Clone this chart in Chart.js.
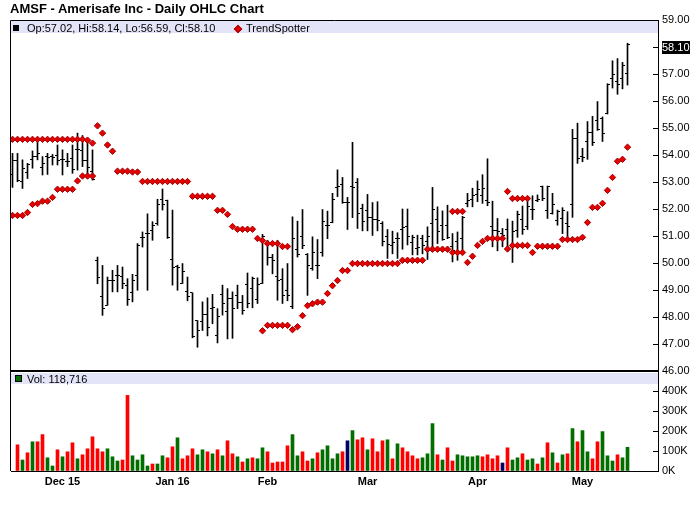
<!DOCTYPE html>
<html>
<head>
<meta charset="utf-8">
<script src="https://cdn.jsdelivr.net/npm/chart.js@4.4.1/dist/chart.umd.min.js"></script>
<style>
  body { margin: 0; background: #fff; }
  #wrap { position: relative; width: 700px; height: 512px; font-family: "Liberation Sans", Arial, sans-serif; color: #000; }
  #chart { position: absolute; left: 0; top: 0; }
  #title { position: absolute; left: 10px; top: 1px; font-size: 13px; line-height: 15px; font-weight: bold; white-space: nowrap; }
  .band { position: absolute; left: 11px; width: 647px; background: #e4e4f8; }
  .txt { position: absolute; font-size: 11px; line-height: 12px; white-space: nowrap; }
  .sq { position: absolute; }
</style>
</head>
<body>
<div id="wrap">
  <canvas id="chart" width="700" height="512"></canvas>
  <div id="title">AMSF - Amerisafe Inc - Daily OHLC Chart</div>
  <div class="band" style="top:21px;height:12px;"></div>
  <div class="sq" style="left:13px;top:25px;width:6px;height:6px;background:#000;"></div>
  <div class="txt" id="ohlcLegend" style="left:27px;top:22px;"></div>
  <div class="sq" style="left:235px;top:26px;width:4px;height:4px;background:#e00000;border:1px solid #a00000;transform:rotate(45deg);"></div>
  <div class="txt" style="left:246px;top:22px;">TrendSpotter</div>
  <div class="band" style="top:373px;height:11px;"></div>
  <div class="sq" style="left:15px;top:375px;width:5px;height:5px;background:#006f00;border:1px solid #000;"></div>
  <div class="txt" id="volLegend" style="left:27px;top:373px;"></div>
</div>
<script>
// AMSF daily bars, 16 Nov 2015 .. 13 May 2016 (bar index 0..123)
const monthIdx = [10, 32, 51, 71, 93, 114];
const monthLabels = ['Dec 15', 'Jan 16', 'Feb', 'Mar', 'Apr', 'May'];
const priceTicks = [46, 47, 48, 49, 50, 51, 52, 53, 54, 55, 56, 57, 58, 59];
const volTicks = [0, 100000, 200000, 300000, 400000];

const opens = [
  53.26, 53.78, 53.03, 53.35, 53.85, 53.94, 53.54, 53.94, 53.94, 53.98,
  53.85, 53.75, 53.88, 54.20, 54.16, 53.80, 53.40, 50.10, 48.77, 48.43,
  49.36, 49.54, 49.50, 49.17, 48.90, 49.52, 50.96, 51.09, 51.20, 51.46,
  52.36, 52.33, 50.13, 49.86, 49.24, 48.93, 48.90, 47.87, 47.85, 48.10,
  48.31, 47.30, 48.84, 48.21, 48.70, 48.80, 48.55, 49.20, 49.05, 48.65,
  49.24, 50.70, 50.20, 49.50, 49.38, 49.00, 48.40, 50.50, 51.00, 50.30,
  49.80, 49.90, 50.40, 51.40, 51.50, 52.80, 52.90, 52.25, 52.82, 52.98,
  52.02, 51.93, 51.68, 51.60, 51.45, 51.00, 50.63, 50.90, 51.24, 51.35,
  50.75, 50.52, 50.90, 50.80, 51.45, 51.60, 51.40, 51.40, 50.60, 50.80,
  50.90, 52.20, 52.37, 52.54, 52.50, 52.33, 51.37, 51.22, 51.10, 51.24,
  50.60, 51.22, 51.62, 51.35, 52.00, 52.33, 52.82, 51.95, 51.85, 51.56,
  51.65, 51.46, 52.18, 54.62, 53.94, 54.50, 54.84, 55.26, 55.37, 55.52,
  56.82, 56.72, 56.85, 57.02
];
const highs = [
  54.06, 54.06, 53.82, 53.69, 54.15, 54.56, 53.94, 54.06, 54.02, 54.37,
  54.19, 54.06, 54.37, 54.81, 54.72, 54.52, 54.19, 50.22, 49.91, 49.48,
  49.73, 49.91, 49.85, 49.42, 49.58, 50.72, 51.15, 51.82, 51.53, 52.36,
  52.74, 52.33, 51.96, 49.92, 49.98, 49.48, 48.90, 47.87, 48.56, 48.71,
  48.84, 48.31, 49.18, 49.05, 48.93, 49.18, 48.80, 49.63, 49.48, 49.45,
  51.06, 50.84, 50.32, 50.84, 49.79, 49.98, 51.71, 51.55, 51.98, 50.35,
  50.97, 50.87, 51.98, 51.92, 52.58, 53.45, 53.17, 52.43, 54.47, 53.13,
  52.18, 52.54, 52.24, 52.27, 51.53, 51.24, 51.18, 51.12, 52.00, 52.00,
  51.03, 51.03, 51.03, 51.34, 52.80, 52.08, 51.93, 52.14, 51.09, 51.15,
  51.73, 52.58, 52.77, 53.04, 53.27, 53.86, 52.29, 51.65, 51.28, 51.63,
  51.55, 51.92, 52.11, 52.36, 52.49, 52.52, 52.85, 52.85, 52.58, 51.96,
  52.05, 51.90, 54.95, 55.18, 54.25, 55.24, 55.43, 55.98, 55.41, 56.64,
  57.49, 57.57, 57.43, 58.14
];
const lows = [
  52.80, 53.01, 52.76, 53.13, 53.51, 53.82, 53.26, 53.28, 53.63, 53.63,
  53.26, 53.57, 53.32, 53.44, 53.57, 53.26, 53.07, 49.23, 48.06, 48.43,
  48.93, 48.93, 49.05, 48.43, 48.56, 48.99, 50.59, 48.99, 50.84, 51.40,
  51.96, 50.91, 49.18, 48.99, 49.24, 48.60, 47.23, 46.88, 47.50, 47.30,
  47.75, 47.04, 48.07, 47.19, 47.21, 48.31, 48.10, 48.34, 48.34, 48.50,
  49.24, 49.92, 49.60, 48.62, 48.50, 48.60, 48.31, 50.22, 50.53, 48.80,
  49.73, 49.42, 50.25, 50.90, 51.49, 52.46, 52.21, 51.24, 51.68, 51.28,
  51.19, 51.19, 51.02, 51.19, 50.63, 50.17, 50.34, 50.17, 50.51, 50.67,
  50.30, 50.30, 50.34, 50.13, 50.54, 50.72, 50.84, 50.90, 50.04, 50.10,
  50.47, 52.08, 52.08, 52.27, 52.21, 52.12, 50.60, 50.45, 50.60, 50.45,
  50.02, 50.95, 51.06, 51.24, 51.61, 52.27, 52.31, 51.65, 51.81, 51.40,
  51.09, 50.90, 51.69, 53.69, 53.75, 53.84, 54.35, 54.91, 54.50, 55.52,
  56.48, 56.25, 56.45, 56.59
];
const closes = [
  53.78, 53.05, 53.50, 53.63, 53.94, 54.06, 53.70, 53.90, 53.90, 53.80,
  53.85, 53.75, 53.47, 54.19, 53.80, 53.55, 53.10, 49.48, 48.31, 49.36,
  49.36, 49.54, 49.23, 48.65, 49.36, 50.66, 50.96, 51.09, 51.40, 52.17,
  52.18, 50.95, 49.83, 49.83, 49.67, 48.77, 47.28, 47.50, 48.10, 47.60,
  48.37, 48.03, 48.50, 48.70, 48.30, 48.55, 48.25, 48.50, 49.43, 49.20,
  51.00, 50.22, 50.10, 49.37, 48.80, 48.78, 50.90, 50.32, 50.65, 49.90,
  50.40, 49.90, 51.55, 51.40, 52.35, 52.85, 52.23, 52.25, 52.80, 51.85,
  51.53, 51.68, 51.60, 51.57, 50.79, 50.70, 50.75, 50.90, 51.30, 50.98,
  50.94, 50.58, 50.65, 51.00, 51.98, 51.15, 50.88, 50.93, 50.47, 50.40,
  51.70, 52.30, 52.50, 52.72, 52.75, 52.25, 51.22, 51.16, 51.03, 50.54,
  51.17, 51.78, 51.25, 52.10, 52.00, 52.37, 52.40, 52.82, 52.15, 51.89,
  51.96, 51.34, 54.62, 53.87, 53.90, 54.84, 54.47, 54.95, 54.81, 56.60,
  57.00, 56.60, 57.33, 58.10
];
const volumes = [
  null,   131000, 55000,  91000,  146000, 146000, 182000, 66000,  25000,  106000,
  71000,  96000,  141000, 61000,  81000,  111000, 171000, 111000, 96000,  111000,
  71000,  50000,  55000,  378000, 76000,  55000,  81000,  25000,  35000,  35000,
  76000,  66000,  121000, 166000, 61000,  76000,  111000, 81000,  106000, 96000,
  86000,  106000, 76000,  151000, 86000,  71000,  45000,  61000,  66000,  61000,
  116000, 96000,  40000,  45000,  45000,  126000, 182000, 76000,  96000,  50000,
  61000,  91000,  106000, 126000, 61000,  86000,  96000,  151000, 202000, 156000,
  166000, 106000, 161000, 96000,  151000, 156000, 61000,  136000, 116000, 96000,
  76000,  61000,  66000,  86000,  237000, 81000,  55000,  116000, 50000,  81000,
  76000,  71000,  71000,  76000,  71000,  81000,  61000,  76000,  40000,  116000,
  55000,  66000,  86000,  55000,  61000,  35000,  66000,  141000, 91000,  40000,
  81000,  86000,  212000, 146000, 202000, 96000,  61000,  146000, 197000, 76000,
  50000,  81000,  66000,  118716
];
// day direction per bar: u = up, d = down, n = unchanged
const volDir = ('u' + 'dududduudu' + 'dduddddduu' + 'udduuuuduu' + 'dduddduudu' +
  'duddududuu' + 'ddddduuddu' + 'duuuudnudd' + 'udddududdd' + 'duuududduu' +
  'uuuddddndu' + 'uduudududu' + 'duduudduuu' + 'duu').split('');

const tsUpper = [
  54.58, 54.58, 54.58, 54.58, 54.58, 54.58, 54.58, 54.58, 54.58, 54.58,
  54.58, 54.58, 54.58, 54.58, 54.58, 54.55, 54.44, 55.08, 54.81, 54.37,
  54.14, 53.40, 53.40, 53.40, 53.37, 53.37, 53.02, 53.02, 53.02, 53.02,
  53.02, 53.02, 53.02, 53.02, 53.02, 53.02, 52.47, 52.47, 52.47, 52.47,
  52.47, 51.95, 51.95, 51.80, 51.35, 51.25, 51.25, 51.25, 51.25, 50.91,
  50.83, 50.72, 50.72, 50.72, 50.61, 50.61, null,  null,  null,  null,
  null,  null,  null,  null,  null,  null,  null,  null,  null,  null,
  null,  null,  null,  null,  null,  null,  null,  null,  null,  null,
  null,  null,  null,  null,  null,  null,  null,  null,  51.91, 51.91,
  51.91, null,  null,  null,  null,  null,  null,  null,  null,  52.65,
  52.39, 52.39, 52.39, 52.39, null,  null,  null,  null,  null,  null,
  null,  null,  null,  null,  null,  null,  null,  null,  null,  null,
  null,  null,  null,  null
];
const tsLower = [
  51.76, 51.76, 51.76, 51.87, 52.17, 52.20, 52.29, 52.29, 52.43, 52.73,
  52.73, 52.73, 52.73, 53.04, 53.22, 53.22, 53.22, null,  null,  null,
  null,  null,  null,  null,  null,  null,  null,  null,  null,  null,
  null,  null,  null,  null,  null,  null,  null,  null,  null,  null,
  null,  null,  null,  null,  null,  null,  null,  null,  null,  null,
  47.49, 47.69, 47.69, 47.69, 47.69, 47.69, 47.53, 47.64, 48.05, 48.42,
  48.49, 48.55, 48.55, 48.87, 49.16, 49.35, 49.72, 49.72, 49.98, 49.98,
  49.98, 49.98, 49.98, 49.98, 49.98, 49.98, 49.98, 49.98, 50.10, 50.10,
  50.10, 50.10, 50.10, 50.51, 50.51, 50.51, 50.51, 50.51, 50.39, 50.39,
  50.39, 50.02, 50.25, 50.65, 50.80, 50.91, 50.91, 50.91, 50.91, 50.52,
  50.65, 50.65, 50.65, 50.65, 50.39, 50.62, 50.62, 50.62, 50.62, 50.62,
  50.87, 50.87, 50.87, 50.87, 50.95, 51.50, 52.06, 52.06, 52.21, 52.69,
  53.17, 53.77, 53.84, 54.29
];

const last = closes.length - 1;
const volColors = { u: '#006f00', d: '#ff0000', n: '#000066' };

document.getElementById('ohlcLegend').textContent =
  'Op:' + opens[last].toFixed(2) + ', Hi:' + highs[last].toFixed(2) +
  ', Lo:' + lows[last].toFixed(2) + ', Cl:' + closes[last].toFixed(2);
document.getElementById('volLegend').textContent = 'Vol: ' + volumes[last].toLocaleString('en-US');

// little horizontal tick sprites for open (left) and close (right)
function tickImage(side) {
  const c = document.createElement('canvas');
  c.width = 5;
  c.height = 1;
  const g = c.getContext('2d');
  g.fillStyle = '#000';
  g.fillRect(side === 'open' ? 0 : 3, 0, 2, 1);
  return c;
}

const toPoints = arr => arr.map((v, i) => (v === null ? null : { x: i, y: v })).filter(p => p);

const framePlugin = {
  id: 'frame',
  beforeDatasetsDraw(chart) {
    chart.ctx.imageSmoothingEnabled = false;
  },
  afterDraw(chart) {
    const { ctx, chartArea: a, scales } = chart;
    const yp = scales.y;
    ctx.save();
    ctx.strokeStyle = '#000';
    ctx.lineWidth = 1;
    ctx.beginPath();
    ctx.moveTo(a.left - 0.5, a.bottom);
    ctx.lineTo(a.left - 0.5, a.top + 0.5);
    ctx.lineTo(a.right, a.top + 0.5);
    ctx.stroke();
    ctx.fillStyle = '#000';
    ctx.fillRect(a.left - 1, Math.round(yp.bottom) - 1, a.right - a.left + 1, 2);
    // ticks point inward from the right axis
    [scales.y, scales.yv].forEach(s => {
      s.ticks.forEach(t => {
        const y = Math.round(s.getPixelForValue(t.value)) + 0.5;
        ctx.beginPath();
        ctx.moveTo(a.right - 5, y);
        ctx.lineTo(a.right, y);
        ctx.stroke();
      });
    });
    // last price flag
    const ly = yp.getPixelForValue(closes[last]);
    ctx.fillRect(a.right + 4, Math.round(ly - 3.5), 28, 13);
    ctx.fillStyle = '#fff';
    ctx.font = '11px "Liberation Sans", Arial, sans-serif';
    ctx.textBaseline = 'middle';
    ctx.fillText(closes[last].toFixed(2), a.right + 4, Math.round(ly - 3.5) + 7);
    ctx.restore();
  }
};

Chart.defaults.font.family = '"Liberation Sans", Arial, sans-serif';
Chart.defaults.font.size = 11;
Chart.defaults.color = '#000';

const tsStyle = {
  type: 'scatter',
  yAxisID: 'y',
  pointStyle: 'rectRot',
  pointRadius: 3.2,
  backgroundColor: '#e80000',
  borderColor: '#a00000',
  borderWidth: 1,
  order: 0,
};

new Chart(document.getElementById('chart'), {
  type: 'bar',
  data: {
    datasets: [
      Object.assign({ label: 'TrendSpotter', data: toPoints(tsUpper) }, tsStyle),
      Object.assign({ label: 'TrendSpotter', data: toPoints(tsLower) }, tsStyle),
      {
        label: 'Open',
        type: 'scatter',
        yAxisID: 'y',
        data: toPoints(opens),
        pointStyle: tickImage('open'),
        pointRadius: 2,
        order: 1,
      },
      {
        label: 'Close',
        type: 'scatter',
        yAxisID: 'y',
        data: toPoints(closes),
        pointStyle: tickImage('close'),
        pointRadius: 2,
        order: 1,
      },
      {
        label: 'Range',
        type: 'bar',
        yAxisID: 'y',
        data: highs.map((h, i) => ({ x: i, y: [lows[i], h] })),
        backgroundColor: '#000',
        barThickness: 1,
        grouped: false,
        order: 2,
      },
      {
        label: 'Volume',
        type: 'bar',
        yAxisID: 'yv',
        data: volumes.map((v, i) => ({ x: i, y: v })),
        backgroundColor: volDir.map(d => volColors[d]),
        barThickness: 3,
        grouped: false,
        order: 3,
      },
    ],
  },
  options: {
    responsive: false,
    animation: false,
    events: [],
    layout: { padding: { left: 11, top: 20, right: 0, bottom: 0 } },
    plugins: {
      legend: { display: false },
      tooltip: { enabled: false },
    },
    scales: {
      x: {
        type: 'linear',
        min: -0.3,
        max: 129.1,
        offset: false,
        grid: { drawOnChartArea: false, drawTicks: false, offset: false },
        border: { display: true, color: '#000' },
        afterBuildTicks: s => { s.ticks = monthIdx.map(v => ({ value: v })); },
        afterFit: s => { s.height = 41; },
        ticks: {
          autoSkip: false,
          maxRotation: 0,
          padding: 4,
          font: { weight: 'bold', size: 11 },
          callback: v => monthLabels[monthIdx.indexOf(v)],
        },
      },
      y: {
        type: 'linear',
        position: 'right',
        stack: 'panels',
        stackWeight: 351,
        min: 46,
        max: 59,
        grid: { drawOnChartArea: false, drawTicks: false },
        border: { display: true, color: '#000' },
        afterBuildTicks: s => { s.ticks = priceTicks.map(v => ({ value: v })); },
        afterFit: s => { s.width = 42; },
        ticks: { autoSkip: false, padding: 4, callback: v => v.toFixed(2) },
      },
      yv: {
        type: 'linear',
        position: 'right',
        stack: 'panels',
        stackWeight: 100,
        min: 0,
        max: 500000,
        grid: { drawOnChartArea: false, drawTicks: false },
        border: { display: true, color: '#000' },
        afterBuildTicks: s => { s.ticks = volTicks.map(v => ({ value: v })); },
        afterFit: s => { s.width = 42; },
        ticks: { autoSkip: false, padding: 4, callback: v => v / 1000 + 'K' },
      },
    },
  },
  plugins: [framePlugin],
});
</script>
</body>
</html>
